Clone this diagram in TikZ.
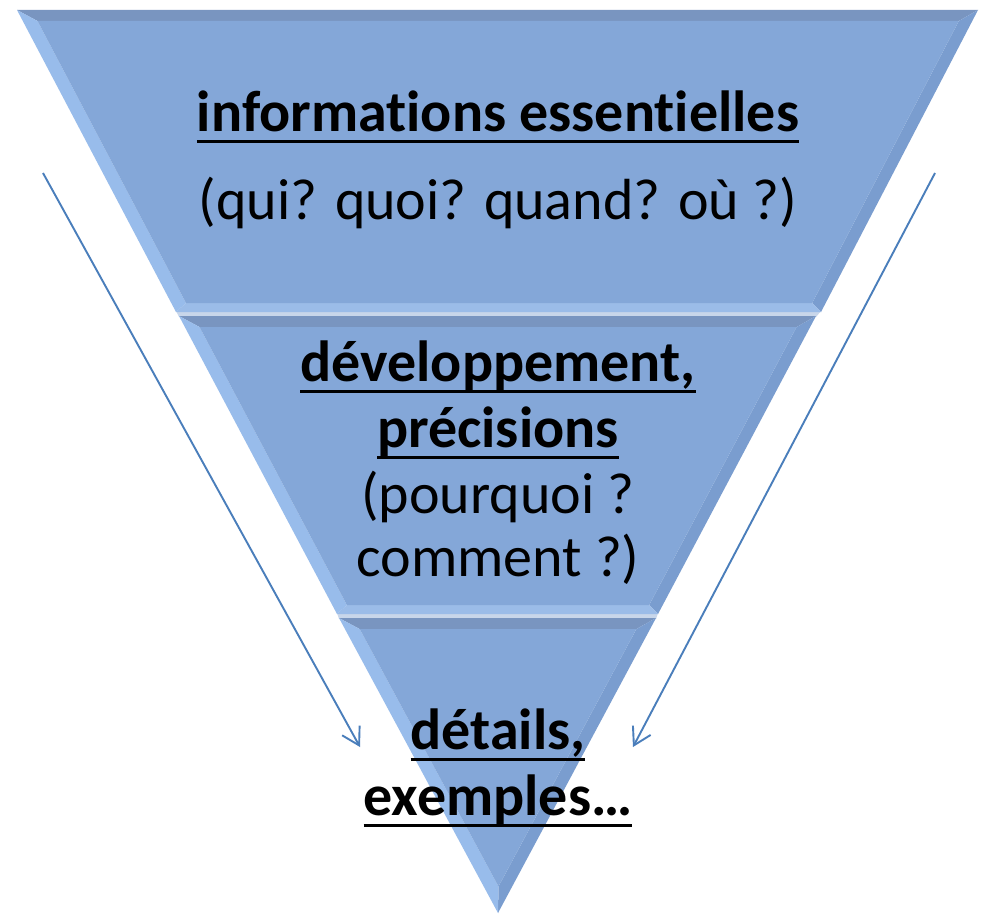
\documentclass[tikz,border=0pt]{standalone}
\usepackage{fontspec}
\setmainfont{Carlito}[Ligatures={NoCommon}]
\usetikzlibrary{arrows.meta}
\definecolor{segmain}{RGB}{132,167,216}
\definecolor{segtop}{RGB}{121,149,192}
\definecolor{segright}{RGB}{122,157,207}
\definecolor{segbottom}{RGB}{155,188,232}
\definecolor{segleft}{RGB}{152,188,235}
\definecolor{seggap}{RGB}{200,214,234}
\definecolor{arrowblue}{RGB}{74,126,187}
\newsavebox\myulbox
\newcommand\myul[1]{\sbox\myulbox{#1}\rlap{\rule[-11.5pt]{\wd\myulbox}{3pt}}\usebox\myulbox}
\begin{document}
\begin{tikzpicture}[x=1pt,y=-1pt,
  txt/.style={anchor=base,inner sep=0pt,font=\fontsize{58}{70}\selectfont},
  btxt/.style={txt,font=\fontsize{58}{70}\selectfont\bfseries},
  flow/.style={draw=arrowblue,line width=1.9pt,-{Straight Barb[length=17pt,width=20pt,line width=1.9pt]}}]
\useasboundingbox[fill=white] (0,0) rectangle (986,915);
% gaps between segments
\fill[seggap] (176,311) -- (821,311) -- (816,317) -- (179,317) -- cycle;
\fill[seggap] (337,613) -- (658,613) -- (656,619) -- (339,619) -- cycle;
% segment 1
\fill[segtop] (17,10) -- (978,10) -- (958.8,21) -- (37.5,21) -- cycle;
\fill[segright] (978,10) -- (821,312) -- (812.2,303) -- (958.8,21) -- cycle;
\fill[segbottom] (821,312) -- (176,312) -- (186,303) -- (812.2,303) -- cycle;
\fill[segleft] (176,312) -- (17,10) -- (37.5,21) -- (186,303) -- cycle;
\fill[segmain] (37.5,21) -- (958.8,21) -- (812.2,303) -- (186,303) -- cycle;
% segment 2
\fill[segtop] (179,316) -- (816,316) -- (796.6,327) -- (199.5,327) -- cycle;
\fill[segright] (816,316) -- (658,614) -- (649.2,605) -- (796.6,327) -- cycle;
\fill[segbottom] (658,614) -- (337,614) -- (346.9,605) -- (649.2,605) -- cycle;
\fill[segleft] (337,614) -- (179,316) -- (199.5,327) -- (346.9,605) -- cycle;
\fill[segmain] (199.5,327) -- (796.6,327) -- (649.2,605) -- (346.9,605) -- cycle;
% segment 3
\fill[segtop] (339,618) -- (656,618) -- (636.4,629) -- (359.7,629) -- cycle;
\fill[segright] (656,618) -- (498,913) -- (498.5,886.5) -- (636.4,629) -- cycle;
\fill[segleft] (498,913) -- (339,618) -- (359.7,629) -- (498.5,886.5) -- cycle;
\fill[segmain] (359.7,629) -- (636.4,629) -- (498.5,886.5) -- cycle;
% texts
\node[btxt] (t1) at (498,132) {\myul{informations essentielles}};
\node[txt] (t2) at (498,219) {(qui? quoi? quand? où ?)};
\node[btxt] (t3) at (498,381) {\myul{développement,}};
\node[btxt] (t4) at (498,447) {\myul{précisions}};
\node[txt] (t5) at (498,513) {(pourquoi ?};
\node[txt] (t6) at (498,576) {comment ?)};
\node[btxt] (t7) at (498,749) {\myul{détails,}};
\node[btxt] (t8) at (498,815) {\myul{exemples…}};
% arrows
\coordinate (la1) at (43,173);
\coordinate (la2) at (360,747);
\coordinate (ra1) at (935,173);
\coordinate (ra2) at (633,747);
\draw[flow] (la1) -- (la2);
\draw[flow] (ra1) -- (ra2);
\end{tikzpicture}
\end{document}
